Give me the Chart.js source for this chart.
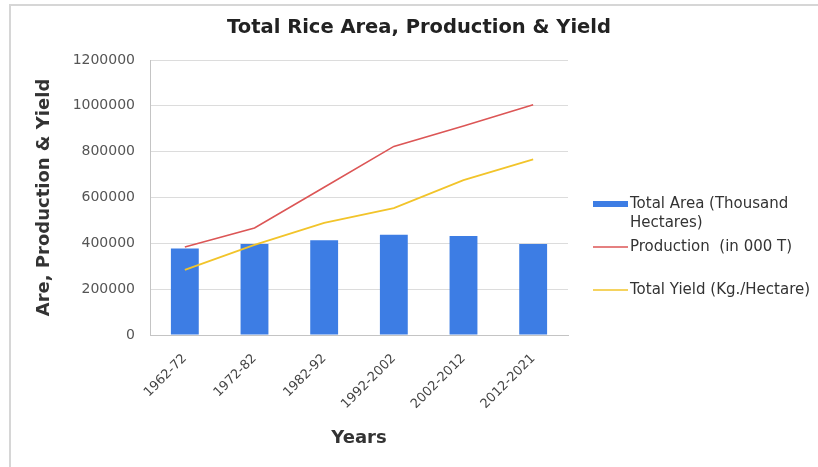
<!DOCTYPE html>
<html>
<head>
<meta charset="utf-8">
<script src="https://cdn.jsdelivr.net/npm/chart.js@4.4.1/dist/chart.umd.min.js"></script>
<style>
  html, body { margin: 0; padding: 0; background: #fff; }
  #frame { position: absolute; left: 9px; top: 4px; width: 830px; height: 480px;
           border-left: 2px solid #d6d6d6; border-top: 2px solid #d6d6d6; }
  #wrap { position: absolute; left: 0; top: 0; width: 818px; height: 467px; }
</style>
</head>
<body>
<div id="frame"></div>
<div id="wrap"><canvas id="rice_chart"></canvas></div>
<script>
const chart_title = 'Total Rice Area, Production & Yield'
const years = ['1962-72', '1972-82', '1982-92', '1992-2002', '2002-2012', '2012-2021']
const total_area = [378000, 397000, 414000, 438000, 432000, 397000]
const production = [384000, 467000, 645000, 823000, 912000, 1005000]
const total_yield = [284000, 393000, 489000, 554000, 676000, 766000]
const y_ticks = [0, 200000, 400000, 600000, 800000, 1000000, 1200000]

const font_name = '"DejaVu Sans", sans-serif'
// legend rows (y of first text line) drawn to the right of the plot
const legend_rows = [204, 247, 290]

const rice_legend = {
  id: 'rice_legend',
  afterDraw(chart) {
    const ctx = chart.ctx
    ctx.save()
    ctx.fillStyle = '#222'
    ctx.font = 'bold 19.5px ' + font_name
    ctx.textAlign = 'center'
    ctx.textBaseline = 'middle'
    ctx.fillText(chart_title, 419, 28)

    ctx.font = '15px ' + font_name
    ctx.textAlign = 'left'
    chart.data.datasets.forEach((ds, i) => {
      const y = legend_rows[i]
      if (ds.type === 'bar') {
        ctx.fillStyle = ds.backgroundColor
        ctx.fillRect(593, y - 3, 35, 6)
      } else {
        ctx.strokeStyle = ds.borderColor
        ctx.lineWidth = 1.5
        ctx.beginPath()
        ctx.moveTo(593, y)
        ctx.lineTo(628, y)
        ctx.stroke()
      }
      // simple word wrap
      ctx.fillStyle = '#333'
      let line = ''
      let ly = y
      ds.label.split(' ').forEach(w => {
        const test = line ? line + ' ' + w : w
        if (ctx.measureText(test).width > 192 && line) {
          ctx.fillText(line, 630, ly)
          line = w
          ly += 19
        } else {
          line = test
        }
      })
      ctx.fillText(line, 630, ly)
    })
    ctx.restore()
  }
}

new Chart(document.getElementById('rice_chart'), {
  data: {
    labels: years,
    datasets: [
      {
        type: 'bar',
        label: 'Total Area (Thousand Hectares)',
        data: total_area,
        backgroundColor: '#3d7de4',
        categoryPercentage: 0.8,
        barPercentage: 0.5,
        order: 2,
      },
      {
        type: 'line',
        label: 'Production  (in 000 T)',
        data: production,
        borderColor: '#dc5656',
        borderWidth: 1.6,
        pointRadius: 0,
        tension: 0,
        order: 1,
      },
      {
        type: 'line',
        label: 'Total Yield (Kg./Hectare)',
        data: total_yield,
        borderColor: '#f2c42a',
        borderWidth: 1.8,
        pointRadius: 0,
        tension: 0,
        order: 1,
      },
    ]
  },
  options: {
    responsive: true,
    maintainAspectRatio: false,
    animation: false,
    layout: { padding: { left: 22, top: 60, right: 250, bottom: 18 } },
    plugins: {
      legend: { display: false },
      title: { display: false },
      tooltip: { enabled: false },
    },
    scales: {
      x: {
        grid: { display: false, drawTicks: false },
        border: { color: '#c4c4c4' },
        ticks: {
          minRotation: 45,
          maxRotation: 45,
          padding: 16,
          color: '#444',
          font: { family: font_name, size: 13 },
        },
        title: {
          display: true,
          text: 'Years',
          color: '#333',
          font: { family: font_name, size: 18, weight: 'bold' },
          padding: 0,
        },
        afterFit(scale) { scale.height = 114 },
      },
      y: {
        min: y_ticks[0],
        max: y_ticks[y_ticks.length - 1],
        grid: { color: '#dcdcdc', drawTicks: false },
        border: { color: '#c4c4c4' },
        ticks: {
          stepSize: y_ticks[1] - y_ticks[0],
          padding: 15,
          color: '#555',
          font: { family: font_name, size: 14 },
          callback: v => String(v),
        },
        title: {
          display: true,
          text: 'Are, Production & Yield',
          color: '#333',
          font: { family: font_name, size: 18, weight: 'bold' },
          padding: { top: 12, bottom: 0 },
        },
        afterFit(scale) { scale.width = 128 },
      },
    },
  },
  plugins: [rice_legend],
})
</script>
</body>
</html>
